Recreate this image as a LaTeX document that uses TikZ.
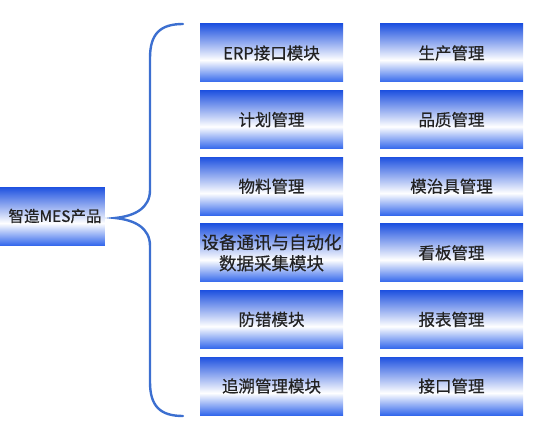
\documentclass[tikz,border=0pt]{standalone}
\usepackage{fontspec}
\newfontfamily\cjk{Noto Sans CJK SC}[FakeBold=0.6]
\definecolor{bluetop}{HTML}{1F52E0}
\definecolor{bluebot}{HTML}{3468EC}
\definecolor{bracecol}{HTML}{3C6FD0}
\definecolor{txt}{HTML}{222222}
\pgfdeclareverticalshading{boxshade}{100bp}{color(0bp)=(bluebot); color(25bp)=(bluebot); color(44bp)=(white); color(75bp)=(bluetop); color(100bp)=(bluetop)}
\tikzset{
  modbox/.style={shading=boxshade, minimum width=143pt, minimum height=58pt, inner sep=0pt, align=center, text=txt, font=\cjk\fontsize{16.5}{17}\selectfont},
}
\begin{document}
\begin{tikzpicture}[x=1pt,y=-1pt]
\useasboundingbox (0,0) rectangle (543,425);
\begin{scope}
\clip (0,0) rectangle (543,425);
\node[modbox, minimum width=120pt, anchor=north east] (root) at (105,187) {};
\end{scope}
\node[text=txt, font=\cjk\fontsize{15.5}{17}\selectfont, inner sep=0pt] (rootlabel) at (55,216) {智造MES产品};
% left column
\node[modbox] (a1) at (271.5,53) {ERP接口模块};
\node[modbox] (a2) at (271.5,119.6) {计划管理};
\node[modbox] (a3) at (271.5,186.2) {物料管理};
\node[modbox, font=\cjk\fontsize{17.5}{21}\selectfont] (a4) at (271.5,252.8) {设备通讯与自动化\\数据采集模块};
\node[modbox] (a5) at (271.5,319.4) {防错模块};
\node[modbox] (a6) at (271.5,386) {追溯管理模块};
% right column
\node[modbox] (b1) at (451.5,53) {生产管理};
\node[modbox] (b2) at (451.5,119.6) {品质管理};
\node[modbox] (b3) at (451.5,186.2) {模治具管理};
\node[modbox] (b4) at (451.5,252.8) {看板管理};
\node[modbox] (b5) at (451.5,319.4) {报表管理};
\node[modbox] (b6) at (451.5,386) {接口管理};
% brace
\coordinate (btop) at (183,24);
\coordinate (bbot) at (183,416);
\coordinate (btip) at (115,218);
\draw[bracecol, line width=2.4pt, line cap=round]
  (btop) .. controls (160,24) and (150,34) .. (150,58)
  -- (150,190) .. controls (150,208) and (135,216) .. (btip)
  .. controls (135,220) and (150,228) .. (150,246)
  -- (150,382) .. controls (150,406) and (160,416) .. (bbot);
\end{tikzpicture}
\end{document}
